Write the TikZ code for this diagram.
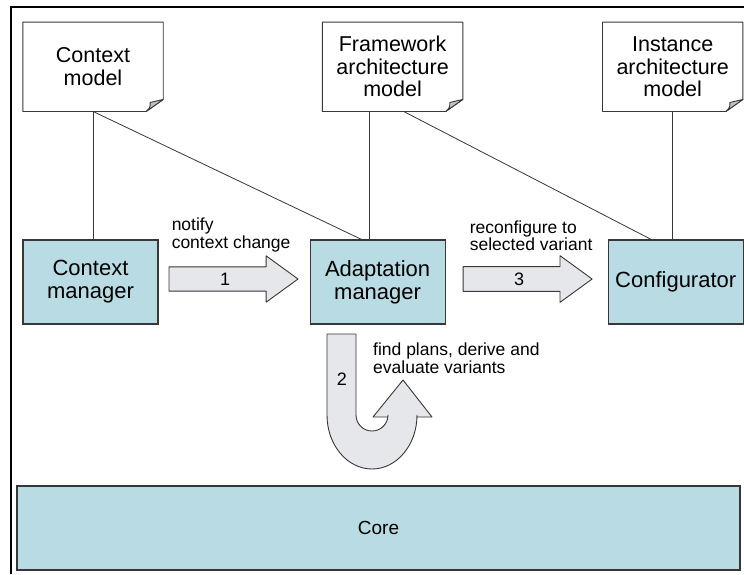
\documentclass[tikz,border=0pt]{standalone}
\usepackage{fontspec}
\setmainfont{Liberation Sans}
\usetikzlibrary{positioning,shapes}

\definecolor{boxblue}{RGB}{185,219,227}
\definecolor{arrgray}{RGB}{230,231,235}
\definecolor{foldgray}{RGB}{190,194,200}
\definecolor{edge}{RGB}{55,55,55}

\begin{document}
\begin{tikzpicture}[x=1pt,y=1pt,
  docnode/.style={minimum width=140pt,minimum height=89pt,inner sep=0pt,align=center,
    font=\fontsize{21.5}{22.5}\selectfont},
  docline/.style={draw=edge,line width=0.9pt,line join=round},
  boxnode/.style={draw=edge,fill=boxblue,line width=1.1pt,minimum width=135pt,
    minimum height=84pt,inner sep=0pt,align=center,font=\fontsize{22}{23}\selectfont},
  blkarrow/.style={draw=edge,fill=arrgray,line width=0.9pt,line join=round},
  stepar/.style={blkarrow,single arrow,single arrow head extend=11pt,single arrow tip angle=72,
    minimum height=129pt,inner sep=5.5pt,font=\fontsize{18}{18}\selectfont},
  lbl/.style={inner sep=0pt,align=left,font=\fontsize{17.5}{17.5}\selectfont},
  link/.style={draw=edge,line width=0.8pt}
]
\useasboundingbox (0,0) rectangle (744,-574);
\draw[line width=1.3pt] (11,-574) -- (11,-7) -- (744,-7);

% managers
\node[boxnode] (cm) at (90.5,-282) {Context\\manager};
\node[boxnode,right=151pt of cm] (am) {Adaptation\\manager};
\node[boxnode,right=162pt of am] (cfg) {Configurator};
\node[boxnode,minimum width=723pt,font=\fontsize{19}{19}\selectfont] (core) at (378.5,-528) {Core};

% models
\node[docnode,above=128pt of cm,xshift=2.5pt] (ctx) {Context\\model};
\node[docnode,above=128pt of am,xshift=15pt] (fw) {Framework\\architecture\\model};
\node[docnode,above=128pt of cfg,xshift=-3pt] (inst) {Instance\\architecture\\model};
\foreach \doc in {ctx,fw,inst}{
  \draw[docline] (\doc.north west) -- (\doc.north east) -- ([yshift=12pt]\doc.south east)
    -- ([xshift=-17pt]\doc.south east) -- (\doc.south west) -- cycle;
  \draw[docline,fill=foldgray] ([xshift=-17pt]\doc.south east)
    .. controls ([xshift=-13pt,yshift=4pt]\doc.south east) .. ([xshift=-13pt,yshift=9pt]\doc.south east)
    -- ([yshift=12pt]\doc.south east) -- cycle;
}

% links
\draw[link] (ctx.south) -- (ctx.south |- cm.north);
\draw[link] (ctx.south) -- ([xshift=-16pt]am.north);
\draw[link] ([xshift=-23pt]fw.south) -- ([xshift=-8pt]am.north);
\draw[link] ([xshift=11pt]fw.south) -- ([xshift=-24.5pt]cfg.north);
\draw[link] (inst.south) -- (inst.south |- cfg.north);

% steps 1 and 3
\node[stepar,right=10pt of cm,yshift=3pt] (s1) {1};
\node[stepar,right=17pt of am,yshift=3pt] (s3) {3};
\node[lbl,above right=27pt and 3pt of s1.west] {notify\\context change};
\node[lbl,above right=28pt and 7pt of s3.west] {reconfigure to\\selected variant};

% step 2
\draw[blkarrow] (327,-334) -- (356,-334) -- (356,-415)
  arc[start angle=180,end angle=360,x radius=16,y radius=16]
  -- (388,-417) -- (373,-417) -- (403,-380) -- (432,-417) -- (417,-417) -- (417,-415)
  arc[start angle=0,end angle=-180,x radius=45,y radius=54] -- cycle;
\node[font=\fontsize{18}{18}\selectfont] (s2) at (342,-379) {2};
\node[lbl,anchor=north west] (s2lbl) at (373,-343) {find plans, derive and\\evaluate variants};
\end{tikzpicture}
\end{document}
